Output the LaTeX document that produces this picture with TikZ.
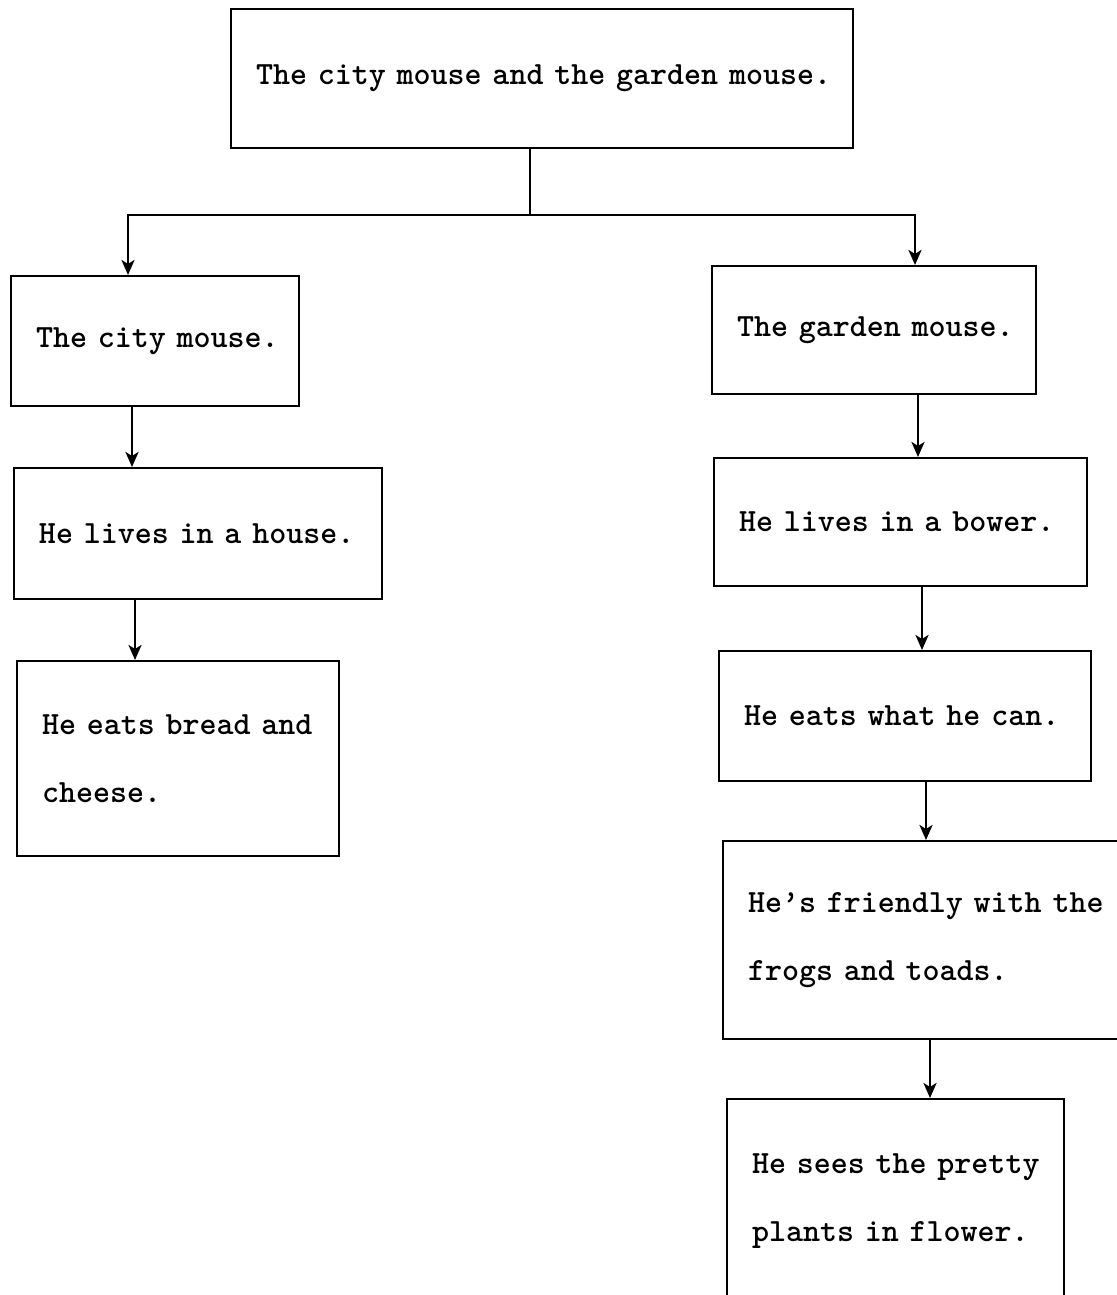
\documentclass[tikz,border=0pt]{standalone}
\usetikzlibrary{arrows.meta}
\begin{document}
\begin{tikzpicture}[x=1pt,y=-1pt,
  box/.style={draw,line width=1pt,rectangle,anchor=north west,inner xsep=12.5pt,inner ysep=0pt,
    align=left,font=\fontsize{16.2}{34}\selectfont\ttfamily\bfseries},
  conn/.style={line width=1.4pt},
  arr/.style={conn,-{Stealth[length=7.5pt,width=6.5pt,inset=2pt]}}]
\useasboundingbox (0,0) rectangle (558.5,647.5);
\clip (0,0) rectangle (558.5,647.5);
\node[box,minimum width=311pt,minimum height=69.5pt,text width=286pt] (top) at (115,4) {\mbox{The city mouse and the garden mouse.}};
\node[box,minimum width=144pt,minimum height=65pt,text width=119pt] (city) at (5,137.5) {\mbox{The city mouse.}};
\node[box,minimum width=184pt,minimum height=65.5pt,text width=159pt] (house) at (6.5,233.5) {\mbox{He lives in a house.}};
\node[box,minimum width=161pt,minimum height=97.5pt,text width=136pt] (bread) at (8,330) {\mbox{He eats bread and}\\\mbox{cheese.}};
\node[box,minimum width=162pt,minimum height=64pt,text width=137pt] (garden) at (355.5,132.5) {\mbox{The garden mouse.}};
\node[box,minimum width=186.5pt,minimum height=64pt,text width=161.5pt] (bower) at (356.5,228.5) {\mbox{He lives in a bower.}};
\node[box,minimum width=186pt,minimum height=65pt,text width=161pt] (what) at (359,325) {\mbox{He eats what he can.}};
\node[box,minimum width=200pt,minimum height=99pt,text width=175pt] (friendly) at (361,420) {\mbox{He’s friendly with the}\\\mbox{frogs and toads.}};
\node[box,minimum width=168.5pt,minimum height=102pt,text width=143.5pt] (plants) at (363,549) {\mbox{He sees the pretty}\\\mbox{plants in flower.}};
\coordinate (j) at (265,107.5);
\draw[conn] ([xshift=150pt]top.south west) -- (j);
\draw[arr] (j) -| ([xshift=59pt]city.north west);
\draw[arr] (j) -| ([xshift=102pt]garden.north west);
\draw[arr] ([xshift=61pt]city.south west) -- ([xshift=61pt]city.south west |- house.north);
\draw[arr] ([xshift=61pt]house.south west) -- ([xshift=61pt]house.south west |- bread.north);
\draw[arr] ([xshift=103.5pt]garden.south west) -- ([xshift=103.5pt]garden.south west |- bower.north);
\draw[arr] ([xshift=104.5pt]bower.south west) -- ([xshift=104.5pt]bower.south west |- what.north);
\draw[arr] ([xshift=104pt]what.south west) -- ([xshift=104pt]what.south west |- friendly.north);
\draw[arr] ([xshift=104pt]friendly.south west) -- ([xshift=104pt]friendly.south west |- plants.north);
\end{tikzpicture}
\end{document}
